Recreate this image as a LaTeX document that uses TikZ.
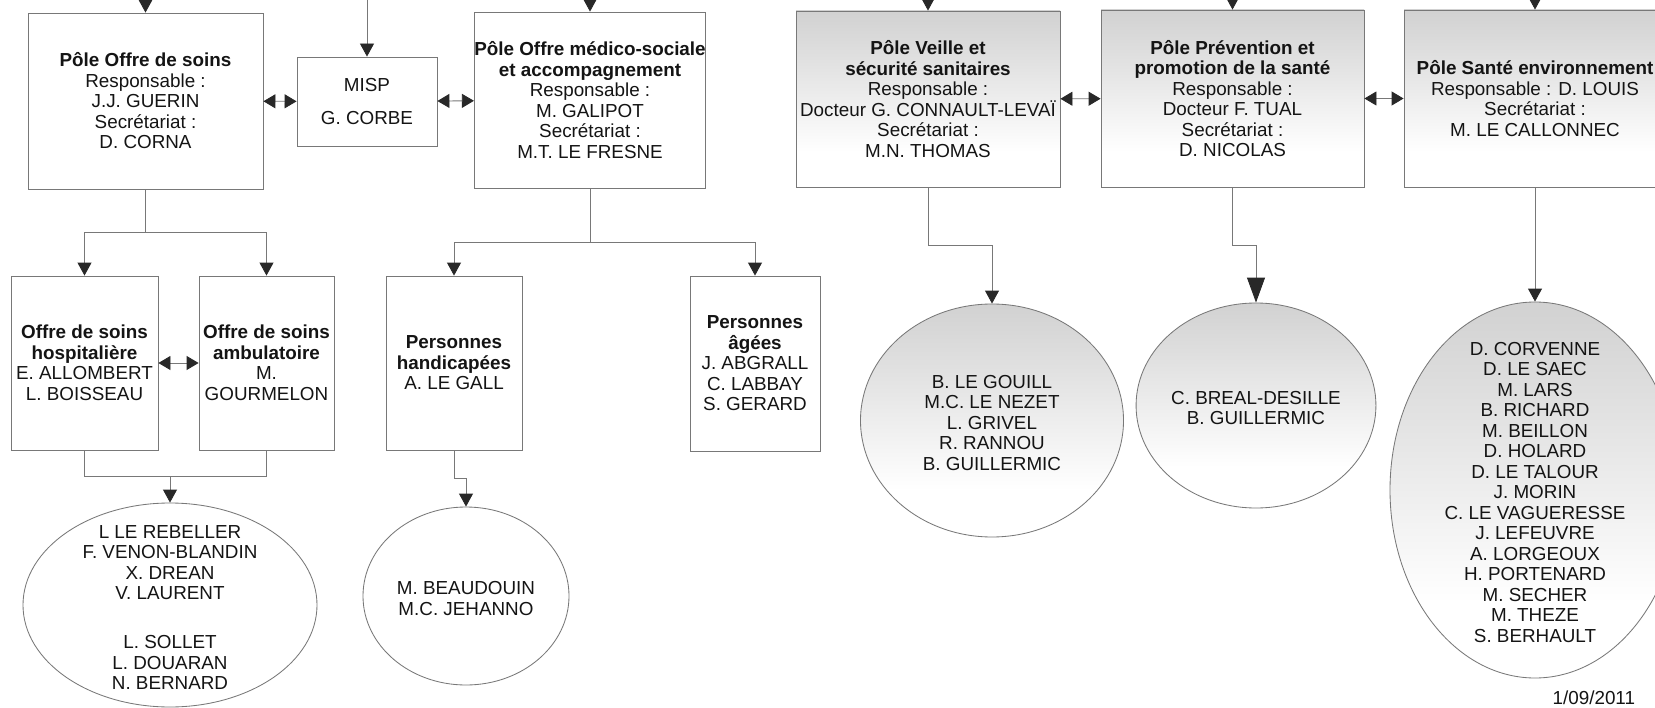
\documentclass[tikz,border=0pt]{standalone}
\usepackage{fontspec}
\setmainfont{Liberation Sans}
\usetikzlibrary{arrows.meta, shapes.geometric}
\definecolor{Trait}{RGB}{120,120,120}
\definecolor{Pointe}{RGB}{40,40,40}
\definecolor{GrisHaut}{RGB}{182,182,182}
\definecolor{Encre}{RGB}{20,20,20}
\pgfdeclareverticalshading{degrade}{100bp}{color(0bp)=(white); color(35bp)=(white); color(60bp)=(GrisHaut!40!white); color(100bp)=(GrisHaut)}
\newcommand{\noms}[1]{\smash{\raisebox{-0.52em}{\begin{tabular}{@{}c@{}}#1\end{tabular}}}}

\begin{document}
\begin{tikzpicture}[x=0.25mm, y=-0.25mm, font=\fontsize{13.4}{14.6}\selectfont, text=Encre,
	taille/.style 2 args={minimum width=#1*0.25mm, minimum height=#2*0.25mm},
	boite/.style={rectangle, draw=Trait, line width=0.6pt, fill=white, inner sep=0pt, align=center},
	pole/.style={boite, shade, shading=degrade},
	liste/.style={ellipse, draw=Trait, line width=0.6pt, fill=white, inner sep=0pt},
	listeg/.style={liste, path picture={\shade[shading=degrade] (path picture bounding box.north west) rectangle (path picture bounding box.south east);}},
	lig/.style={draw=Trait, line width=0.6pt},
	fl/.style={lig, -{Triangle[length=3.25mm, width=3.5mm, color=Pointe]}},
	flg/.style={lig, -{Triangle[length=6.25mm, width=4.5mm, color=Pointe]}},
	dfl/.style={lig, {Triangle[length=3mm, width=3.5mm, color=Pointe]}-{Triangle[length=3mm, width=3.5mm, color=Pointe]}}]

	\path[use as bounding box, fill=white] (0,0) rectangle (1655,708);

	% pôles
	\node[boite, taille={235}{176}] (os) at (145.5,101) {\textbf{Pôle Offre de soins}\\Responsable :\\J.J. GUERIN\\Secrétariat :\\D. CORNA};
	\node[boite, taille={140}{89}] (misp) at (367,101.5) {\raisebox{-0.35em}{MISP}\\[0.29cm]\raisebox{-0.35em}{G. CORBE}};
	\node[boite, taille={224}{176}] (medico) at (590,100) {\textbf{Pôle Offre médico-sociale}\\\textbf{et accompagnement}\\Responsable :\\M. GALIPOT\\Secrétariat :\\M.T. LE FRESNE};
	\node[pole, taille={264}{176}] (veille) at (928,99) {\textbf{Pôle Veille et}\\\textbf{sécurité sanitaires}\\Responsable :\\Docteur G. CONNAULT-LEVAÏ\\Secrétariat :\\M.N. THOMAS};
	\node[pole, taille={263}{177}] (prev) at (1232.5,98.5) {\textbf{Pôle Prévention et}\\\textbf{promotion de la santé}\\Responsable :\\Docteur F. TUAL\\Secrétariat :\\D. NICOLAS};
	\node[pole, taille={262}{177}] (sante) at (1535,98.5) {\textbf{Pôle Santé environnement}\\Responsable : D. LOUIS\\Secrétariat :\\M. LE CALLONNEC};

	% cellules
	\node[boite, taille={147}{174}] (hosp) at (84.5,363) {\textbf{Offre de soins}\\\textbf{hospitalière}\\E. ALLOMBERT\\L. BOISSEAU};
	\node[boite, taille={135}{174}] (amb) at (266.5,363) {\textbf{Offre de soins}\\\textbf{ambulatoire}\\M.\\GOURMELON};
	\node[boite, taille={136}{174}] (hand) at (454,363) {\textbf{Personnes}\\\textbf{handicapées}\\A. LE GALL};
	\node[boite, taille={130}{175}] (ages) at (755,363.5) {\textbf{Personnes}\\\textbf{âgées}\\J. ABGRALL\\C. LABBAY\\S. GERARD};

	% agents
	\node[liste, taille={294}{204}] (ell1) at (170,605) {\noms{L LE REBELLER\\F. VENON-BLANDIN\\X. DREAN\\V. LAURENT\\[0.71cm]L. SOLLET\\L. DOUARAN\\N. BERNARD}};
	\node[liste, taille={206}{178}] (ell2) at (466,596) {\noms{M. BEAUDOUIN\\M.C. JEHANNO}};
	\node[listeg, taille={263}{233}] (circ1) at (992,420.5) {\noms{B. LE GOUILL\\M.C. LE NEZET\\L. GRIVEL\\R. RANNOU\\B. GUILLERMIC}};
	\node[listeg, taille={206}{205}] (circ2) at (1256,405.5) {\noms{C. BREAL-DESILLE\\B. GUILLERMIC}};
	\node[listeg, taille={290}{376}] (ell3) at (1535,490) {\noms{D. CORVENNE\\D. LE SAEC\\M. LARS\\B. RICHARD\\M. BEILLON\\D. HOLARD\\D. LE TALOUR\\J. MORIN\\C. LE VAGUERESSE\\J. LEFEUVRE\\A. LORGEOUX\\H. PORTENARD\\M. SECHER\\M. THEZE\\S. BERHAULT}};

	\node[anchor=east] (date) at (1640,698) {1/09/2011};

	\foreach \n in {os, misp, medico, veille, prev, sante}{\draw[fl] ([yshift=1.5cm]\n.north) -- (\n.north);}
	\draw[dfl] (os) -- (misp);
	\draw[dfl] (misp) -- (medico);
	\draw[dfl] (veille) -- (prev);
	\draw[dfl] (prev) -- (sante);
	\draw[dfl] (hosp) -- (amb);

	\coordinate (j1) at (145.5,232);
	\draw[lig] (os.south) -- (j1);
	\coordinate (j2) at (170,476);
	\foreach \n in {hosp, amb}{\draw[fl] (j1) -| (\n.north); \draw[lig] (\n.south) |- (j2);}
	\draw[fl] (j2) -- (ell1.north);

	\coordinate (j3) at (590,242);
	\draw[lig] (medico.south) -- (j3);
	\foreach \n in {hand, ages}{\draw[fl] (j3) -| (\n.north);}
	\draw[fl] (hand.south) -- ++(0,28) -| (ell2.north);

	\draw[fl] (veille.south) -- ++(0,58) -| (circ1.north);
	\draw[flg] (prev.south) -- ++(0,58) -| (circ2.north);
	\draw[fl] (sante.south) -- (ell3.north);
\end{tikzpicture}
\end{document}
